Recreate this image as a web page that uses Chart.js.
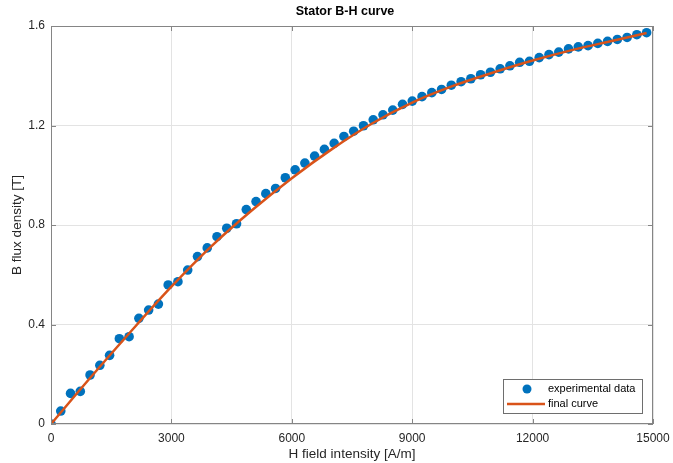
<!DOCTYPE html>
<html>
<head>
<meta charset="utf-8">
<title>Stator B-H curve</title>
<script src="https://cdn.jsdelivr.net/npm/chart.js@4.4.1/dist/chart.umd.min.js"></script>
<style>
  html, body { margin: 0; padding: 0; background: #fff; }
</style>
</head>
<body>
<canvas id="bh" width="673" height="463"></canvas>
<script>
// Measured points: field intensity H [A/m] and flux density B [T]
const hMeasured = [0, 243, 487, 730, 973, 1217, 1460, 1703, 1946, 2190,
  2433, 2676, 2920, 3163, 3406, 3650, 3893, 4136, 4379, 4623,
  4866, 5109, 5353, 5596, 5839, 6083, 6326, 6569, 6812, 7056,
  7299, 7542, 7786, 8029, 8272, 8516, 8759, 9002, 9245, 9489,
  9732, 9975, 10219, 10462, 10705, 10949, 11192, 11435, 11678, 11922,
  12165, 12408, 12652, 12895, 13138, 13382, 13625, 13868, 14111, 14355,
  14598, 14841];
const bMeasured = [0, 0.052, 0.123, 0.131, 0.197, 0.236, 0.276, 0.343, 0.351, 0.425,
  0.458, 0.482, 0.559, 0.572, 0.619, 0.673, 0.708, 0.753, 0.787, 0.805,
  0.862, 0.894, 0.926, 0.947, 0.990, 1.022, 1.049, 1.077, 1.104, 1.128,
  1.156, 1.177, 1.199, 1.223, 1.243, 1.262, 1.285, 1.298, 1.316, 1.332,
  1.345, 1.362, 1.376, 1.388, 1.404, 1.414, 1.428, 1.440, 1.454, 1.458,
  1.473, 1.485, 1.495, 1.508, 1.516, 1.521, 1.530, 1.538, 1.546, 1.554,
  1.565, 1.573];

// Fitted curve, sampled along H
const hCurve = [0, 1000, 2000, 3000, 4000, 5000, 6000, 7000, 8000, 9000,
  10000, 11000, 12000, 13000, 14000, 14841];
const bCurve = [0, 0.190, 0.374, 0.552, 0.715, 0.858, 0.988, 1.105, 1.208, 1.292,
  1.358, 1.412, 1.461, 1.504, 1.541, 1.572];

const xTicks = [0, 3000, 6000, 9000, 12000, 15000];
const yTicks = [0, 0.4, 0.8, 1.2, 1.6];

const BLUE = '#0072bd';
const ORANGE = '#d95319';
const FONT = '"Liberation Sans", Arial, Helvetica, sans-serif';

// axes box, inward ticks, titles and legend
const matlabAxes = {
  id: 'matlabAxes',
  afterDraw(chart) {
    const { ctx, chartArea: a, scales } = chart;
    ctx.save();

    ctx.strokeStyle = '#858585';
    ctx.lineWidth = 1;
    ctx.strokeRect(a.left + 0.5, a.top + 0.5, a.right - a.left - 1, a.bottom - a.top - 1);

    ctx.beginPath();
    xTicks.forEach(v => {
      const px = Math.round(scales.x.getPixelForValue(v)) + 0.5;
      ctx.moveTo(px, a.bottom); ctx.lineTo(px, a.bottom - 5);
      ctx.moveTo(px, a.top); ctx.lineTo(px, a.top + 5);
    });
    yTicks.forEach(v => {
      const py = Math.round(scales.y.getPixelForValue(v)) + 0.5;
      ctx.moveTo(a.left, py); ctx.lineTo(a.left + 5, py);
      ctx.moveTo(a.right, py); ctx.lineTo(a.right - 5, py);
    });
    ctx.stroke();

    // title
    ctx.fillStyle = '#000';
    ctx.textAlign = 'center';
    ctx.textBaseline = 'middle';
    ctx.font = 'bold 12.5px ' + FONT;
    ctx.fillText('Stator B-H curve', (a.left + a.right) / 2 - 7, 12);

    // axis titles
    ctx.fillStyle = '#262626';
    ctx.font = '13.5px ' + FONT;
    ctx.fillText('H field intensity [A/m]', (a.left + a.right) / 2, 454);
    ctx.save();
    ctx.translate(17, (a.top + a.bottom) / 2);
    ctx.rotate(-Math.PI / 2);
    ctx.fillText('B flux density [T]', 0, 0);
    ctx.restore();

    // legend
    const lw = 140, lh = 35;
    const lx = a.right - 10 - lw, ly = a.bottom - 10 - lh;
    ctx.fillStyle = '#fff';
    ctx.fillRect(lx, ly, lw, lh);
    ctx.strokeStyle = '#6e6e6e';
    ctx.strokeRect(lx + 0.5, ly + 0.5, lw - 1, lh - 1);

    ctx.fillStyle = BLUE;
    ctx.beginPath();
    ctx.arc(lx + 24, ly + 10, 4.5, 0, Math.PI * 2);
    ctx.fill();

    ctx.strokeStyle = ORANGE;
    ctx.lineWidth = 2.5;
    ctx.beginPath();
    ctx.moveTo(lx + 4, ly + 25);
    ctx.lineTo(lx + 42, ly + 25);
    ctx.stroke();

    ctx.fillStyle = '#000';
    ctx.textAlign = 'left';
    ctx.font = '11px ' + FONT;
    ctx.fillText('experimental data', lx + 45, ly + 10);
    ctx.fillText('final curve', lx + 45, ly + 25);

    ctx.restore();
  }
};

new Chart(document.getElementById('bh'), {
  data: {
    datasets: [
      {
        type: 'scatter',
        label: 'experimental data',
        data: hMeasured.map((h, i) => ({ x: h, y: bMeasured[i] })),
        backgroundColor: BLUE,
        borderColor: BLUE,
        borderWidth: 0,
        pointRadius: 4.8,
        order: 2,
      },
      {
        type: 'line',
        label: 'final curve',
        data: hCurve.map((h, i) => ({ x: h, y: bCurve[i] })),
        borderColor: ORANGE,
        borderWidth: 2.5,
        pointRadius: 0,
        fill: false,
        cubicInterpolationMode: 'monotone',
        order: 1,
      },
    ],
  },
  options: {
    responsive: false,
    animation: false,
    devicePixelRatio: 1,
    layout: { padding: { top: 26, right: 20, left: 0, bottom: 0 } },
    plugins: {
      legend: { display: false },
      title: { display: false },
      tooltip: { enabled: false },
    },
    scales: {
      x: {
        type: 'linear',
        min: 0,
        max: 15000,
        afterBuildTicks: s => { s.ticks = xTicks.map(v => ({ value: v })); },
        // fixed axis band; end labels may overhang the plot edges
        afterFit: s => { s.height = 39; s.paddingLeft = 0; s.paddingRight = 0; },
        grid: { color: '#e3e3e3', drawTicks: false },
        border: { display: false },
        ticks: {
          padding: 7,
          color: '#262626',
          font: { family: FONT, size: 12 },
          maxRotation: 0,
          callback: v => String(v),
        },
      },
      y: {
        type: 'linear',
        min: 0,
        max: 1.6,
        afterBuildTicks: s => { s.ticks = yTicks.map(v => ({ value: v })); },
        afterFit: s => { s.width = 51; s.paddingTop = 0; s.paddingBottom = 0; },
        grid: { color: '#e3e3e3', drawTicks: false },
        border: { display: false },
        ticks: {
          padding: 6,
          color: '#262626',
          font: { family: FONT, size: 12 },
          callback: v => String(v),
        },
      },
    },
  },
  plugins: [matlabAxes],
});
</script>
</body>
</html>
